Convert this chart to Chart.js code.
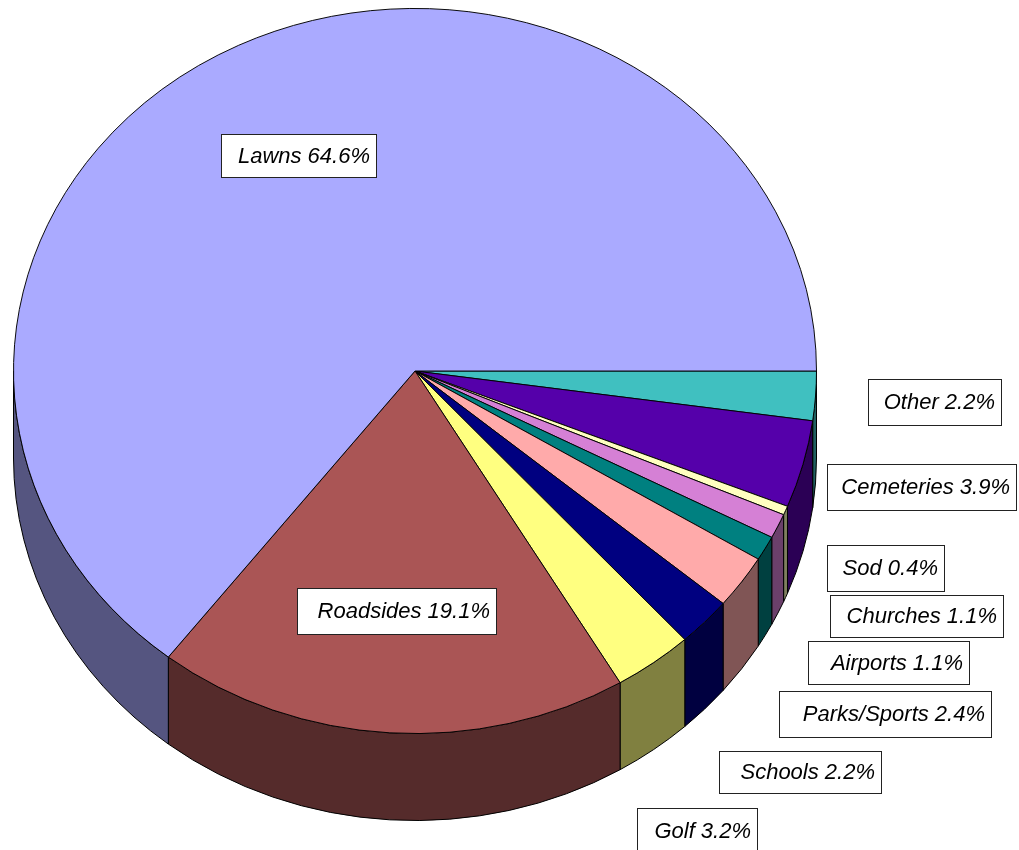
<!DOCTYPE html>
<html>
<head>
<meta charset="utf-8">
<script src="https://cdn.jsdelivr.net/npm/chart.js@4.4.1/dist/chart.umd.min.js"></script>
<style>
  html, body { margin: 0; padding: 0; background: #fff; }
  #pie { display: block; }
</style>
</head>
<body>
<canvas id="pie" width="1019" height="850"></canvas>
<script>
// slices, clockwise from 3 o'clock
const categories = ["Other", "Cemeteries", "Sod", "Churches", "Airports", "Parks/Sports", "Schools", "Golf", "Roadsides", "Lawns"];
const shares = [2.2, 3.9, 0.4, 1.1, 1.1, 2.4, 2.2, 3.2, 19.1, 64.6];
const sliceColors = ["#40C0C0", "#5500AA", "#FFFFC0", "#D580D5", "#008080", "#FFAAAA", "#000080", "#FFFF80", "#AA5555", "#AAAAFF"];

// label boxes [left, top, width, height]
const labelBoxes = [
  [868, 379, 133, 46],
  [827, 464, 189, 46],
  [827, 545, 117, 46],
  [830, 595, 173, 42],
  [808, 641, 161, 43],
  [779, 691, 212, 46],
  [719, 751, 162, 42],
  [637, 808, 120, 46],
  [297, 588, 199, 46],
  [221, 134, 155, 43]
];

const TILT = 0.903;    // vertical squash of the top face
const DEPTH = 87;      // height of the side wall
const CENTER_Y = 371;  // where the pie centre sits on the page

function darker(hex) {
  let n = parseInt(hex.slice(1), 16);
  let r = (n >> 16) & 255, g = (n >> 8) & 255, b = n & 255;
  return `rgb(${Math.round(r / 2)},${Math.round(g / 2)},${Math.round(b / 2)})`;
}

const pie3d = {
  id: "pie3d",
  beforeDatasetsDraw(chart) {
    const ctx = chart.ctx;
    const arcs = chart.getDatasetMeta(0).data;
    const cx = arcs[0].x, cy0 = arcs[0].y;
    const R = arcs[0].outerRadius;
    const ry = R * TILT;
    // side walls, only the front half of the cylinder is visible
    arcs.forEach((arc, i) => {
      let s = Math.max(arc.startAngle, 0);
      let e = Math.min(arc.endAngle, Math.PI);
      if (e <= s) return;
      ctx.beginPath();
      ctx.ellipse(cx, CENTER_Y, R, ry, 0, s, e);
      ctx.lineTo(cx + R * Math.cos(e), CENTER_Y + ry * Math.sin(e) + DEPTH);
      ctx.ellipse(cx, CENTER_Y + DEPTH, R, ry, 0, e, s, true);
      ctx.closePath();
      ctx.fillStyle = darker(sliceColors[i]);
      ctx.fill();
      ctx.lineWidth = 1;
      ctx.strokeStyle = "#000";
      ctx.stroke();
    });
    ctx.save();
    ctx.translate(cx, CENTER_Y);
    ctx.scale(1, TILT);
    ctx.translate(-cx, -cy0);
  },
  afterDatasetsDraw(chart) {
    chart.ctx.restore();
  },
  afterDraw(chart) {
    const ctx = chart.ctx;
    ctx.save();
    ctx.font = "italic 22px 'Liberation Sans', Arial, sans-serif";
    ctx.textAlign = "right";
    ctx.textBaseline = "middle";
    categories.forEach((c, i) => {
      let [x, y, w, h] = labelBoxes[i];
      ctx.fillStyle = "#fff";
      ctx.fillRect(x, y, w, h);
      ctx.strokeStyle = "#222";
      ctx.lineWidth = 1;
      ctx.strokeRect(x + 0.5, y + 0.5, w, h);
      ctx.fillStyle = "#000";
      ctx.fillText(c + " " + shares[i].toFixed(1) + "%", x + w - 6, y + h / 2 + 1);
    });
    ctx.restore();
  }
};

new Chart(document.getElementById("pie"), {
  type: "pie",
  data: {
    labels: categories,
    datasets: [{
      data: shares,
      backgroundColor: sliceColors,
      borderColor: "#000",
      borderWidth: 1
    }]
  },
  options: {
    responsive: false,
    animation: false,
    rotation: 90,
    layout: { padding: { left: 13, right: 202, top: 23, bottom: 23 } },
    plugins: {
      legend: { display: false },
      tooltip: { enabled: false }
    }
  },
  plugins: [pie3d]
});
</script>
</body>
</html>
